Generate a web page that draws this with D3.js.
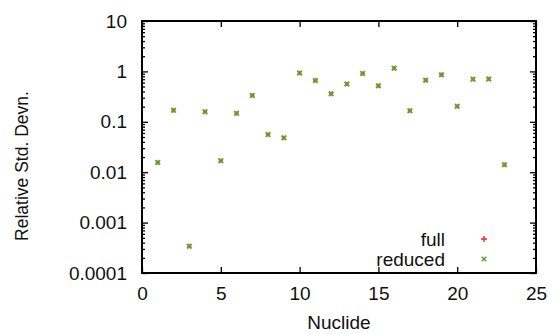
<!DOCTYPE html>
<html>
<head>
<meta charset="utf-8">
<script src="https://cdn.jsdelivr.net/npm/d3@7"></script>
<style>
  body { margin: 0; background: #fff; }
  svg { display: block; font-family: "Liberation Sans", Arial, sans-serif; }
</style>
</head>
<body>
<svg id="chart" width="560" height="334"></svg>
<script>
// nuclide index on x
const nuclides = [1, 2, 3, 4, 5, 6, 7, 8, 9, 10, 11, 12, 13, 14, 15, 16, 17, 18, 19, 20, 21, 22, 23];
// relative std. devn. for the full model
const fullValues = [0.0156, 0.169, 0.00034, 0.159, 0.0169, 0.147, 0.334, 0.0558, 0.048, 0.925, 0.66, 0.36,
                    0.56, 0.91, 0.52, 1.16, 0.166, 0.67, 0.857, 0.203, 0.70, 0.71, 0.0141];
// reduced model, same as full within what the picture shows
const reducedValues = [0.0156, 0.169, 0.00034, 0.159, 0.0169, 0.147, 0.334, 0.0558, 0.048, 0.925, 0.66, 0.36,
                       0.56, 0.91, 0.52, 1.16, 0.166, 0.67, 0.857, 0.203, 0.70, 0.71, 0.0141];
const xTicks = [0, 5, 10, 15, 20, 25];
const yTicks = [0.0001, 0.001, 0.01, 0.1, 1, 10];
const yTickLabels = ["0.0001", "0.001", "0.01", "0.1", "1", "10"];
const seriesNames = ["full", "reduced"];

const svg = d3.select("#chart");
const margin = {left: 142, right: 24, top: 21, bottom: 61};
const W = 560, H = 334;

const x = d3.scaleLinear().domain([0, 25]).range([margin.left, W - margin.right]);
const y = d3.scaleLog().domain([1e-4, 10]).range([H - margin.bottom, margin.top]);

// minor log ticks 2..9 per decade
const minor = [];
yTicks.slice(0, -1).forEach(d => {
    for (let k = 2; k <= 9; k++) minor.push(d * k);
});

const fontSize = 19;
const styleAxis = g => {
    g.select(".domain").remove();
    g.selectAll("line").attr("stroke", "#000").attr("stroke-width", 1.3);
    g.selectAll("text").attr("font-size", fontSize).attr("fill", "#111").attr("font-family", "Liberation Sans, Arial, sans-serif");
};

// bottom
svg.append("g")
    .attr("transform", `translate(0,${y.range()[0]})`)
    .call(d3.axisBottom(x).tickValues(xTicks).tickSizeInner(-6).tickSizeOuter(0).tickPadding(14).tickFormat(d3.format("d")))
    .call(styleAxis);
// top (mirror)
svg.append("g")
    .attr("transform", `translate(0,${y.range()[1]})`)
    .call(d3.axisTop(x).tickValues(xTicks).tickSizeInner(-6).tickSizeOuter(0).tickFormat(""))
    .call(styleAxis);
// left
svg.append("g")
    .attr("transform", `translate(${x.range()[0]},0)`)
    .call(d3.axisLeft(y).tickValues(yTicks).tickSizeInner(-6).tickSizeOuter(0).tickPadding(15)
        .tickFormat((d, i) => yTickLabels[i]))
    .call(styleAxis);
svg.append("g")
    .attr("transform", `translate(${x.range()[0]},0)`)
    .call(d3.axisLeft(y).tickValues(minor).tickSizeInner(-3).tickSizeOuter(0).tickFormat(""))
    .call(styleAxis);
// right (mirror)
svg.append("g")
    .attr("transform", `translate(${x.range()[1]},0)`)
    .call(d3.axisRight(y).tickValues(yTicks).tickSizeInner(-6).tickSizeOuter(0).tickFormat(""))
    .call(styleAxis);
svg.append("g")
    .attr("transform", `translate(${x.range()[1]},0)`)
    .call(d3.axisRight(y).tickValues(minor).tickSizeInner(-3).tickSizeOuter(0).tickFormat(""))
    .call(styleAxis);

// frame
svg.append("rect")
    .attr("x", x.range()[0]).attr("y", y.range()[1])
    .attr("width", x.range()[1] - x.range()[0])
    .attr("height", y.range()[0] - y.range()[1])
    .attr("fill", "none").attr("stroke", "#000").attr("stroke-width", 2);

// markers
const plus = "M-2,0H2M0,-2V2";
const cross = "M-2.3,-2.3L2.3,2.3M-2.3,2.3L2.3,-2.3";
const colors = ["#ee2222", "#5aa02a"];

svg.append("g").selectAll("path")
    .data(nuclides.map((n, i) => [n, fullValues[i]]))
    .join("path")
    .attr("d", plus)
    .attr("transform", d => `translate(${x(d[0])},${y(d[1])})`)
    .attr("stroke", colors[0]).attr("stroke-width", 1).attr("fill", "none");

svg.append("g").selectAll("path")
    .data(nuclides.map((n, i) => [n, reducedValues[i]]))
    .join("path")
    .attr("d", cross)
    .attr("transform", d => `translate(${x(d[0])},${y(d[1])})`)
    .attr("stroke", colors[1]).attr("stroke-width", 2).attr("fill", "none")
    .attr("stroke-opacity", 0.92);

// legend
const legend = svg.append("g").attr("transform", "translate(445,246)");
const item = legend.selectAll("g").data(seriesNames).join("g")
    .attr("transform", (d, i) => `translate(0,${i * 20})`);
item.append("text")
    .attr("text-anchor", "end")
    .attr("font-size", fontSize)
    .attr("fill", "#111")
    .text(d => d);
item.append("path")
    .attr("d", (d, i) => i === 0 ? "M-3,0H3M0,-3V3" : "M-2.3,-2.3L2.3,2.3M-2.3,2.3L2.3,-2.3")
    .attr("transform", "translate(39,-7)")
    .attr("stroke", (d, i) => colors[i])
    .attr("stroke-width", 1.4)
    .attr("fill", "none");

// axis titles
svg.append("text")
    .attr("x", (x.range()[0] + x.range()[1]) / 2)
    .attr("y", 329)
    .attr("text-anchor", "middle")
    .attr("font-size", fontSize)
    .attr("fill", "#111")
    .text("Nuclide");

svg.append("text")
    .attr("transform", "translate(28,166) rotate(-90)")
    .attr("text-anchor", "middle")
    .attr("font-size", 17.5)
    .attr("fill", "#111")
    .text("Relative Std. Devn.");
</script>
</body>
</html>
